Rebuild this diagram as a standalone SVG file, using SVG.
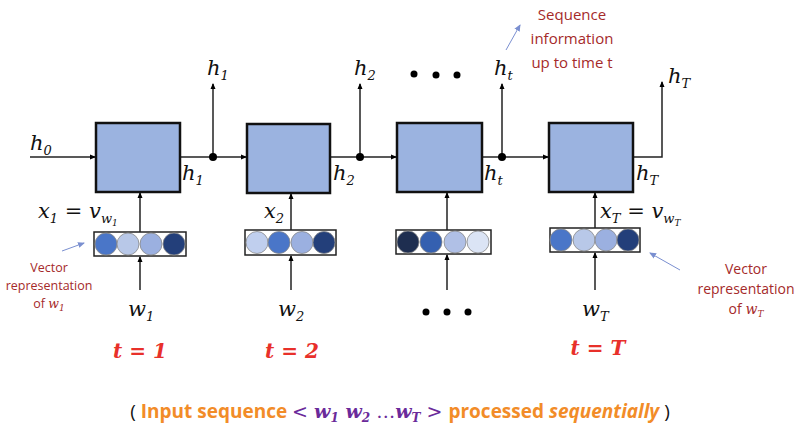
<svg xmlns="http://www.w3.org/2000/svg" width="800" height="430" viewBox="0 0 800 430">
<defs>
<marker id="ar" markerWidth="6" markerHeight="6" refX="5" refY="3" orient="auto" markerUnits="userSpaceOnUse"><path d="M0,0.5 L6,3 L0,5.5z" fill="#000"/></marker>
<marker id="ab" markerWidth="7" markerHeight="7" refX="6" refY="3.5" orient="auto" markerUnits="userSpaceOnUse"><path d="M0,0.5 L7,3.5 L0,6.5z" fill="#7a8fd0"/></marker>
</defs>
<style>
.box{fill:#9bb3e0;stroke:#111;stroke-width:2.5}
.bar{fill:#fff;stroke:#222;stroke-width:1.5}
.ln{stroke:#222;stroke-width:1.5;fill:none}
.m{font-family:"DejaVu Serif",serif;font-style:italic;font-size:21px;fill:#111}
.s{font-family:"DejaVu Serif",serif;font-style:italic;font-size:13px;fill:#111}
.red{font-family:"Open Sans","Liberation Sans",sans-serif;font-size:15px;fill:#a52a2a;text-anchor:middle}
.rs{font-size:12.5px}
.rm{font-size:14px}
.t{font-family:"DejaVu Serif",serif;font-style:italic;font-weight:bold;font-size:20px;fill:#e8302a;text-anchor:middle}
.c{stroke:#888;stroke-width:0.8}
</style>
<rect width="800" height="430" fill="#fff"/>
<g id="connectors">
<line class="ln" x1="30" y1="157" x2="95" y2="157" marker-end="url(#ar)"/>
<line class="ln" x1="181" y1="157" x2="246" y2="157" marker-end="url(#ar)"/>
<line class="ln" x1="331" y1="157" x2="396" y2="157" marker-end="url(#ar)"/>
<line class="ln" x1="483" y1="157" x2="548" y2="157" marker-end="url(#ar)"/>
<polyline class="ln" points="634,157 662,157 662,82" marker-end="url(#ar)"/>
<line class="ln" x1="213" y1="157" x2="213" y2="84" marker-end="url(#ar)"/>
<line class="ln" x1="360" y1="157" x2="360" y2="84" marker-end="url(#ar)"/>
<line class="ln" x1="502" y1="157" x2="502" y2="84" marker-end="url(#ar)"/>
<circle cx="213" cy="157" r="4" fill="#000"/>
<circle cx="360" cy="157" r="4" fill="#000"/>
<circle cx="502" cy="157" r="4" fill="#000"/>
<line class="ln" x1="140" y1="232" x2="140" y2="193" marker-end="url(#ar)"/>
<line class="ln" x1="291" y1="230" x2="291" y2="194" marker-end="url(#ar)"/>
<line class="ln" x1="447" y1="230" x2="447" y2="193" marker-end="url(#ar)"/>
<line class="ln" x1="595" y1="228" x2="595" y2="193" marker-end="url(#ar)"/>
<line class="ln" x1="140" y1="290" x2="140" y2="257" marker-end="url(#ar)"/>
<line class="ln" x1="291" y1="290" x2="291" y2="256" marker-end="url(#ar)"/>
<line class="ln" x1="447" y1="290" x2="447" y2="255" marker-end="url(#ar)"/>
<line class="ln" x1="595" y1="290" x2="595" y2="253" marker-end="url(#ar)"/>
<line x1="62" y1="251" x2="84" y2="243" stroke="#7a8fd0" stroke-width="1" marker-end="url(#ab)"/>
<line x1="680" y1="270" x2="650" y2="253" stroke="#7a8fd0" stroke-width="1" marker-end="url(#ab)"/>
<line x1="506" y1="50" x2="520" y2="25" stroke="#7a8fd0" stroke-width="1" marker-end="url(#ab)"/>
</g>
<g id="cell1"><rect class="box" x="96" y="123" width="84" height="69"/></g>
<g id="cell2"><rect class="box" x="247" y="124" width="83" height="69"/></g>
<g id="cell3"><rect class="box" x="397" y="123" width="85" height="69"/></g>
<g id="cell4"><rect class="box" x="549" y="123" width="84" height="69"/></g>
<g id="vec1"><rect class="bar" x="94" y="232" width="92" height="24"/>
<circle class="c" cx="106" cy="244" r="11" fill="#4a76c8"/><circle class="c" cx="128" cy="244" r="11" fill="#b8c8e8"/><circle class="c" cx="151" cy="244" r="11" fill="#9bb0e0"/><circle class="c" cx="174" cy="244" r="11" fill="#233f7a"/></g>
<g id="vec2"><rect class="bar" x="245" y="230" width="91" height="25"/>
<circle class="c" cx="257" cy="242.5" r="11" fill="#c0cfee"/><circle class="c" cx="279" cy="242.5" r="11" fill="#4a76c8"/><circle class="c" cx="302" cy="242.5" r="11" fill="#9bb0e0"/><circle class="c" cx="324" cy="242.5" r="11" fill="#233f7a"/></g>
<g id="vec3"><rect class="bar" x="396" y="230" width="95" height="24"/>
<circle class="c" cx="408" cy="242" r="11" fill="#1e2e50"/><circle class="c" cx="431" cy="242" r="11" fill="#3560b0"/><circle class="c" cx="455" cy="242" r="11" fill="#b0c0e6"/><circle class="c" cx="478" cy="242" r="11" fill="#dbe4f5"/></g>
<g id="vec4"><rect class="bar" x="550" y="228" width="90" height="24"/>
<circle class="c" cx="561" cy="240" r="11" fill="#4a76c8"/><circle class="c" cx="584" cy="240" r="11" fill="#b8c8e8"/><circle class="c" cx="606" cy="240" r="11" fill="#9bb0e0"/><circle class="c" cx="628" cy="240" r="11" fill="#233f7a"/></g>
<g id="labels">
<text class="m" x="30" y="150">h<tspan class="s" dy="5">0</tspan></text>
<text class="m" x="182" y="180">h<tspan class="s" dy="5">1</tspan></text>
<text class="m" x="333" y="180">h<tspan class="s" dy="5">2</tspan></text>
<text class="m" x="484" y="180">h<tspan class="s" dy="5">t</tspan></text>
<text class="m" x="636" y="180">h<tspan class="s" dy="5">T</tspan></text>
<text class="m" x="207" y="75">h<tspan class="s" dy="5">1</tspan></text>
<text class="m" x="354" y="75">h<tspan class="s" dy="5">2</tspan></text>
<text class="m" x="494" y="75">h<tspan class="s" dy="5">t</tspan></text>
<text class="m" x="668" y="83">h<tspan class="s" dy="5">T</tspan></text>
<text class="m" x="38" y="218">x<tspan class="s" dy="5">1</tspan><tspan dy="-5"> = v</tspan><tspan class="s" dy="5">w</tspan><tspan class="s" style="font-size:9px" dy="3">1</tspan></text>
<text class="m" x="264" y="218">x<tspan class="s" dy="5">2</tspan></text>
<text class="m" x="600" y="218">x<tspan class="s" dy="5">T</tspan><tspan dy="-5"> = v</tspan><tspan class="s" dy="5">w</tspan><tspan class="s" style="font-size:9px" dy="3">T</tspan></text>
<text class="m" x="128" y="316">w<tspan class="s" dy="5">1</tspan></text>
<text class="m" x="278" y="316">w<tspan class="s" dy="5">2</tspan></text>
<text class="m" x="582" y="316">w<tspan class="s" dy="5">T</tspan></text>
<g fill="#000"><circle cx="414" cy="74" r="3.5"/><circle cx="436" cy="75" r="3.5"/><circle cx="457" cy="75" r="3.5"/>
<circle cx="426" cy="312" r="3.5"/><circle cx="447" cy="312" r="3.5"/><circle cx="468" cy="312" r="3.5"/></g>
<text class="t" x="140" y="358">t = 1</text>
<text class="t" x="292" y="358">t = 2</text>
<text class="t" x="598" y="355">t = T</text>
<text class="red" x="572" y="20">Sequence</text>
<text class="red" x="572" y="44">information</text>
<text class="red" x="572" y="68">up to time t</text>
<text class="red rs" x="49" y="272">Vector</text>
<text class="red rs" x="49" y="290">representation</text>
<text class="red rs" x="49" y="308">of <tspan font-family="DejaVu Serif" font-style="italic">w</tspan><tspan font-family="DejaVu Serif" font-style="italic" style="font-size:9px" dy="3">1</tspan></text>
<text class="red rm" x="746" y="274">Vector</text>
<text class="red rm" x="746" y="294">representation</text>
<text class="red rm" x="746" y="314">of <tspan font-family="DejaVu Serif" font-style="italic">w</tspan><tspan font-family="DejaVu Serif" font-style="italic" style="font-size:9px" dy="3">T</tspan></text>
<text x="400" y="418" text-anchor="middle" font-family="Open Sans,Liberation Sans,sans-serif" font-size="19" fill="#f28c28" font-weight="bold"><tspan fill="#111" font-weight="normal">( </tspan>Input sequence <tspan fill="#6a2a9a" font-family="DejaVu Serif" font-weight="normal">&lt; </tspan><tspan fill="#6a2a9a" font-family="DejaVu Serif" font-style="italic">w</tspan><tspan fill="#6a2a9a" font-family="DejaVu Serif" font-style="italic" font-size="12" dy="4">1</tspan><tspan fill="#6a2a9a" font-family="DejaVu Serif" font-style="italic" dy="-4"> w</tspan><tspan fill="#6a2a9a" font-family="DejaVu Serif" font-style="italic" font-size="12" dy="4">2</tspan><tspan fill="#6a2a9a" font-family="DejaVu Serif" dy="-4" font-weight="normal"> …</tspan><tspan fill="#6a2a9a" font-family="DejaVu Serif" font-style="italic">w</tspan><tspan fill="#6a2a9a" font-family="DejaVu Serif" font-style="italic" font-size="12" dy="4">T</tspan><tspan fill="#6a2a9a" font-family="DejaVu Serif" font-weight="normal" dy="-4"> &gt; </tspan>processed <tspan font-style="italic">sequentially</tspan><tspan fill="#111" font-weight="normal"> )</tspan></text>
</g>
</svg>
